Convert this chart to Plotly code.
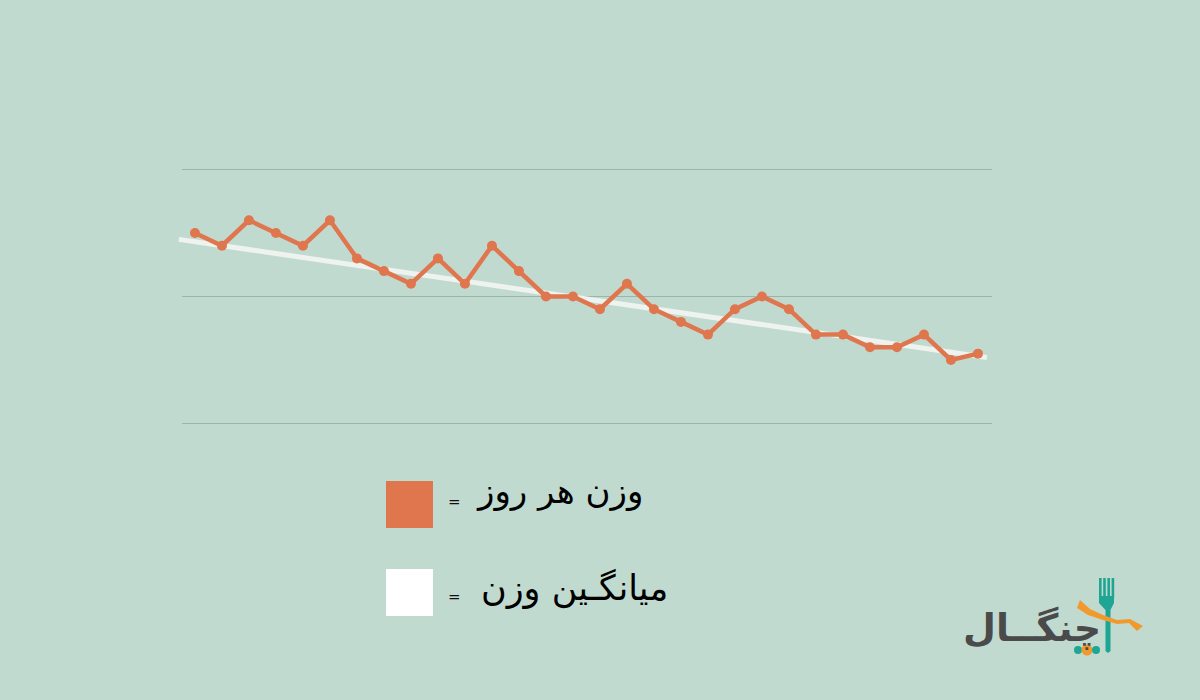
import plotly.graph_objects as go

days = list(range(1, 31))
daily_weight = [71.5, 71.4, 71.6, 71.5, 71.4, 71.6, 71.3, 71.2, 71.1, 71.3,
                71.1, 71.4, 71.2, 71.0, 71.0, 70.9, 71.1, 70.9, 70.8, 70.7,
                70.9, 71.0, 70.9, 70.7, 70.7, 70.6, 70.6, 70.7, 70.5, 70.55]
avg_days = [0.4, 30.33]
avg_weight = [71.45, 70.52]
grid_levels = [70, 71, 72]
grid_days = [0.52, 30.52]
legend_daily = "وزن هر روز"
legend_avg = "میانگـین وزن"
logo_text = "چنگــال"

BG = "#c1dad0"
ORANGE = "#e0764d"
WHITE_LINE = "#eef3f0"
GRID = "#9cb5aa"
TEAL = "#1fa594"
AMBER = "#f2992e"
W, H = 1200, 700

def px(x):
    return x / W

def py(y):
    return 1 - y / H

def path(points, close=True):
    s = "M " + " L ".join(f"{px(x):.5f},{py(y):.5f}" for x, y in points)
    return s + (" Z" if close else "")

fig = go.Figure()
for level in grid_levels:
    fig.add_trace(go.Scatter(x=grid_days, y=[level, level], mode="lines",
                             line=dict(color=GRID, width=1.2), showlegend=False))
fig.add_trace(go.Scatter(x=avg_days, y=avg_weight, mode="lines", cliponaxis=False,
                         line=dict(color=WHITE_LINE, width=5), showlegend=False))
fig.add_trace(go.Scatter(x=days, y=daily_weight, mode="lines+markers", cliponaxis=False,
                         line=dict(color=ORANGE, width=4.5),
                         marker=dict(color=ORANGE, size=10), showlegend=False))

shapes = []
def rect(x0, y0, x1, y1, color):
    shapes.append(dict(type="rect", xref="paper", yref="paper", x0=px(x0), x1=px(x1),
                       y0=py(y1), y1=py(y0), fillcolor=color, line=dict(width=0)))

rect(386, 481, 433, 528, ORANGE)
rect(386, 569, 433, 616, "#ffffff")

# logo: fork
fork_tines = [1099, 1103.2, 1107.4, 1111.6]
for t in fork_tines:
    rect(t, 578, t + 2.6, 598, TEAL)
shapes.append(dict(type="path", xref="paper", yref="paper", line=dict(width=0), fillcolor=TEAL,
                   path=path([(1099, 596), (1114, 596), (1114, 603), (1110.5, 610), (1110.5, 651),
                              (1108, 653), (1105.5, 651), (1105.5, 610), (1099, 603)])))
# logo: ribbon
shapes.append(dict(type="path", xref="paper", yref="paper", line=dict(width=0), fillcolor=AMBER,
                   path=path([(1080, 600), (1090, 609), (1103, 615), (1117, 620), (1130, 619),
                              (1143, 626), (1137, 631), (1129, 623), (1117, 624), (1103, 620),
                              (1088, 615), (1077, 608)])))

def text(x, y, s, size, color, anchor="right", family="DejaVu Sans", bold=False):
    return dict(xref="paper", yref="paper", x=px(x), y=py(y), text=f"<b>{s}</b>" if bold else s,
                showarrow=False, xanchor=anchor, yanchor="middle",
                font=dict(family=family, size=size, color=color))

annotations = [
    text(645, 491, legend_daily, 34, "#000000"),
    text(670, 588, legend_avg, 35, "#000000"),
    text(454, 502, "=", 15, "#111111", "center"),
    text(454, 597, "=", 15, "#111111", "center"),
    text(1103, 628, logo_text, 38, "#4a4a4a", bold=True),
]

# pad the axes past the gridlines so the white line's overhang is not clipped
x_per_px = 30 / 810
y_per_px = 2 / 254
pad = 8

fig.update_layout(
    width=W, height=H, margin=dict(l=0, r=0, t=0, b=0),
    paper_bgcolor=BG, plot_bgcolor="rgba(0,0,0,0)",
    xaxis=dict(domain=[px(182 - pad), px(992 + pad)],
               range=[0.52 - pad * x_per_px, 30.52 + pad * x_per_px], showgrid=False,
               zeroline=False, showticklabels=False, ticks=""),
    yaxis=dict(domain=[py(423.5 + pad), py(169.5 - pad)],
               range=[70 - pad * y_per_px, 72 + pad * y_per_px], showgrid=False,
               zeroline=False, showticklabels=False, ticks=""),
    shapes=shapes, annotations=annotations, showlegend=False,
)
# logo: dots
for cx, r, col in [(1078, 4, TEAL), (1087, 5.5, AMBER), (1096, 4, TEAL)]:
    fig.add_shape(type="circle", xref="paper", yref="paper", x0=px(cx - r), x1=px(cx + r),
                  y0=py(650 + r), y1=py(650 - r), fillcolor=col, line=dict(width=0), layer="above")
fig.write_html("out.html", config=dict(displayModeBar=False),
               post_script="document.body.style.margin='0';")
